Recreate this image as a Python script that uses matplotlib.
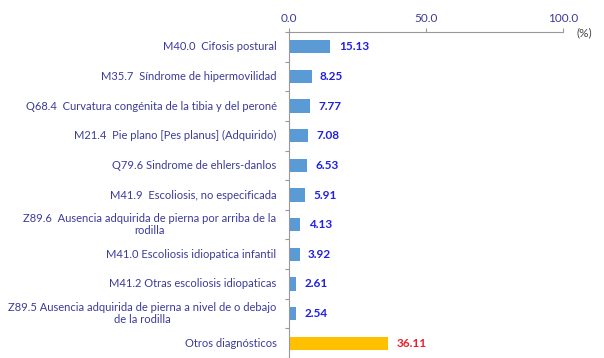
import matplotlib.pyplot as plt
import numpy as np

# Diagnósticos y porcentajes
categories = [
    "M40.0  Cifosis postural",
    "M35.7  Síndrome de hipermovilidad",
    "Q68.4  Curvatura congénita de la tibia y del peroné",
    "M21.4  Pie plano [Pes planus] (Adquirido)",
    "Q79.6 Sindrome de ehlers-danlos",
    "M41.9  Escoliosis, no especificada",
    "Z89.6  Ausencia adquirida de pierna por arriba de la\nrodilla",
    "M41.0 Escoliosis idiopatica infantil",
    "M41.2 Otras escoliosis idiopaticas",
    "Z89.5 Ausencia adquirida de pierna a nivel de o debajo\nde la rodilla",
    "Otros diagnósticos",
]
values = [15.13, 8.25, 7.77, 7.08, 6.53, 5.91, 4.13, 3.92, 2.61, 2.54, 36.11]
x_ticks = [0, 50, 100]

text_color = "#3b3b9a"
bar_colors = ["#5b9bd5"] * (len(values) - 1) + ["#ffc000"]
value_colors = ["#1f1fe6"] * (len(values) - 1) + ["#e8202a"]

plt.rcParams['font.family'] = ['Lato', 'DejaVu Sans']

fig = plt.figure(figsize=(6.04, 3.58), dpi=100)
ax = fig.add_axes([0.4785, 0.0, 0.4537, 0.9106])

y = np.arange(len(values))
ax.barh(y, values, height=0.45, color=bar_colors)
ax.set_ylim(len(values) - 0.5, -0.5)
ax.set_xlim(0, 100)

for yi, v, c in zip(y, values, value_colors):
    ax.annotate(f"{v:.2f}", (v, yi), xytext=(6, 0), textcoords="offset points",
                va="center", ha="left", fontsize=8.5, fontweight="bold", color=c)

# categorías a la izquierda, líneas centradas
for yi, lab in zip(y, categories):
    ax.annotate(lab, (0, yi), xytext=(-9, 0), textcoords="offset points",
                va="center", ha="right", multialignment="center",
                fontsize=8.0, color=text_color, linespacing=1.15)

ax.xaxis.tick_top()
ax.set_xticks(x_ticks)
ax.set_xticklabels([f"{t:.1f}" for t in x_ticks], fontsize=8.5, color=text_color)
ax.tick_params(axis="x", length=3, color="#999999", pad=3)
ax.set_yticks(np.arange(len(values) + 1) - 0.5)
ax.set_yticklabels([])
ax.tick_params(axis="y", length=3, color="#999999")

for side in ["right", "bottom"]:
    ax.spines[side].set_visible(False)
for side in ["top", "left"]:
    ax.spines[side].set_color("#999999")

fig.text(584 / 604, 1 - 33 / 358, "(%)", fontsize=8.5, color="#444444",
         ha="center", va="center")

fig.savefig("out.png", dpi=100)
